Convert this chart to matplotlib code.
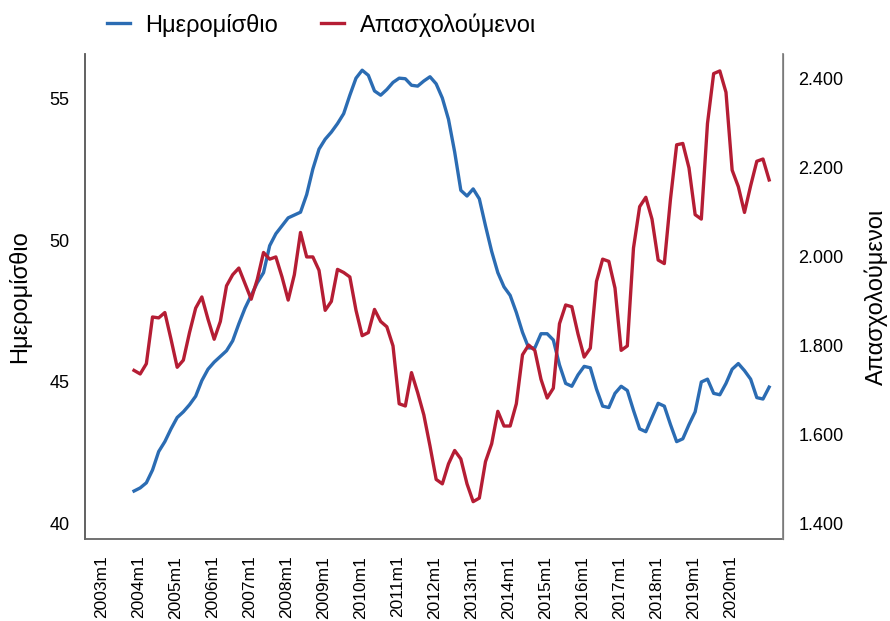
import numpy as np
import matplotlib
matplotlib.use("Agg")
import matplotlib.pyplot as plt

plt.rcParams['font.family'] = ['Liberation Sans', 'DejaVu Sans']

# μήνες από 2004m1, ανά δίμηνο
months = np.arange(0, 207, 2)

# Ημερομίσθιο (αριστερός άξονας)
wage = [41.16, 41.27, 41.45, 41.9, 42.55, 42.9, 43.35, 43.75, 43.95, 44.2,
        44.5, 45.05, 45.45, 45.7, 45.9, 46.1, 46.45, 47.05, 47.6, 48.05,
        48.5, 48.85, 49.8, 50.22, 50.5, 50.78, 50.88, 50.98, 51.6, 52.5,
        53.2, 53.55, 53.8, 54.1, 54.45, 55.1, 55.7, 55.98, 55.8, 55.25,
        55.1, 55.3, 55.55, 55.7, 55.68, 55.45, 55.42, 55.6, 55.75, 55.5,
        55.0, 54.25, 53.1, 51.75, 51.55, 51.8, 51.45, 50.5, 49.6, 48.85,
        48.35, 48.05, 47.45, 46.75, 46.2, 46.2, 46.7, 46.7, 46.48, 45.6,
        44.95, 44.85, 45.25, 45.55, 45.5, 44.75, 44.15, 44.1, 44.6, 44.85,
        44.7, 44.0, 43.35, 43.25, 43.75, 44.25, 44.15, 43.5, 42.9, 43.0,
        43.5, 43.95, 45.0, 45.1, 44.6, 44.55, 44.95, 45.45, 45.65, 45.4,
        45.1, 44.45, 44.4, 44.82]

# Απασχολούμενοι (δεξιός άξονας)
employed = [1.745, 1.737, 1.76, 1.865, 1.863, 1.875, 1.815, 1.752, 1.768, 1.83,
            1.885, 1.91, 1.86, 1.815, 1.855, 1.935, 1.96, 1.975, 1.94, 1.905,
            1.95, 2.01, 1.995, 2.0, 1.955, 1.903, 1.96, 2.055, 2.0, 2.0,
            1.97, 1.88, 1.9, 1.972, 1.965, 1.955, 1.88, 1.823, 1.83, 1.882,
            1.855, 1.843, 1.8, 1.67, 1.665, 1.74, 1.695, 1.645, 1.575, 1.5,
            1.49, 1.535, 1.565, 1.546, 1.49, 1.45, 1.458, 1.54, 1.58, 1.653,
            1.62, 1.62, 1.67, 1.78, 1.802, 1.79, 1.725, 1.683, 1.705, 1.85,
            1.892, 1.888, 1.827, 1.775, 1.795, 1.945, 1.995, 1.99, 1.93, 1.79,
            1.8, 2.02, 2.113, 2.134, 2.085, 1.993, 1.985, 2.13, 2.252, 2.255,
            2.2, 2.095, 2.085, 2.3, 2.412, 2.418, 2.37, 2.195, 2.158, 2.1,
            2.16, 2.215, 2.22, 2.173]

years = list(range(2003, 2021))
tick_labels = [f"{y}m1" for y in years]

blue = "#2b6cb3"
red = "#b51d34"

fig = plt.figure(figsize=(8.9, 6.21), dpi=100)
ax = fig.add_axes([0.0955, 0.132, 0.7843, 0.781])
ax2 = ax.twinx()

l1, = ax.plot(months, wage, color=blue, lw=2.4, label="Ημερομίσθιο")
l2, = ax2.plot(months, employed, color=red, lw=2.4, label="Απασχολούμενοι")

ax.set_xlim(-15.9, 210.5)
ax.set_ylim(39.47, 56.55)
ax2.set_ylim(1.366, 2.456)

ax.set_yticks([40, 45, 50, 55])
ax2.set_yticks([1.4, 1.6, 1.8, 2.0, 2.2, 2.4])
ax2.set_yticklabels(["1.400", "1.600", "1.800", "2.000", "2.200", "2.400"])

ax.set_xticks([12 * (y - 2004) + 1.6 for y in years])
ax.set_xticklabels(tick_labels, rotation=90)

ax.tick_params(axis='both', length=0, labelsize=13, pad=11)
ax2.tick_params(axis='y', length=0, labelsize=13, pad=11)
ax.tick_params(axis='x', labelsize=12.5, pad=12)

for a in (ax, ax2):
    a.spines['top'].set_visible(False)
ax.spines['left'].set_color("#555555")
ax.spines['bottom'].set_color("#666666")
ax2.spines['right'].set_color("#888888")
ax2.spines['left'].set_visible(False)
ax2.spines['bottom'].set_visible(False)
for s in ('left', 'bottom'):
    ax.spines[s].set_linewidth(1.3)
ax2.spines['right'].set_linewidth(1.3)

ax.set_ylabel("Ημερομίσθιο", fontsize=17, labelpad=13)
ax2.set_ylabel("Απασχολούμενοι", fontsize=17, labelpad=15)

fig.legend(handles=[l1, l2], loc="center", bbox_to_anchor=(0.361, 0.96),
           ncol=2, frameon=False, fontsize=17, handlelength=1.0,
           handletextpad=0.65, columnspacing=1.8)

fig.savefig("out.png", dpi=100)
